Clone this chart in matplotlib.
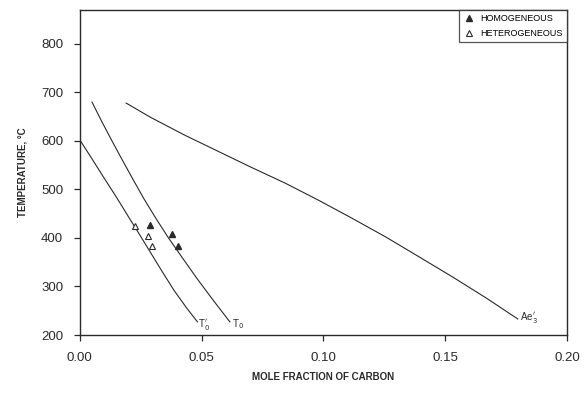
import matplotlib
matplotlib.use("Agg")
import matplotlib.pyplot as plt

plt.rcParams['font.family'] = ['Liberation Sans', 'DejaVu Sans']

# T0' curve
t0p_x = [0.0, 0.0050, 0.0099, 0.0149, 0.0198, 0.0244, 0.0289, 0.0339,
         0.0388, 0.0438, 0.0483]
t0p_T = [602, 563, 524, 485, 445, 408, 371, 330, 291, 256, 227]
# T0 curve
t0_x = [0.0050, 0.0091, 0.0132, 0.0174, 0.0219, 0.0264, 0.0314, 0.0364,
        0.0421, 0.0483, 0.0550, 0.0616]
t0_T = [680, 639, 600, 561, 520, 480, 439, 400, 359, 315, 270, 227]
# Ae3' curve
ae_x = [0.0190, 0.0289, 0.0430, 0.0566, 0.0702, 0.0843, 0.0979, 0.1116,
        0.1256, 0.1393, 0.1529, 0.1669, 0.1798]
ae_T = [678, 649, 612, 579, 546, 513, 478, 441, 402, 361, 320, 276, 233]
# data points
homo_x = [0.0289, 0.038, 0.0401]
homo_T = [427, 408, 383]
hetero_x = [0.0227, 0.0281, 0.0298]
hetero_T = [425, 404, 383]

xticks = [0.00, 0.05, 0.10, 0.15, 0.20]
xticklabels = ["0.00", "0.05", "0.10", "0.15", "0.20"]
yticks = [200, 300, 400, 500, 600, 700, 800]

col = '#2a2a2a'
fig = plt.figure(figsize=(5.87, 3.96), dpi=100)
ax = fig.add_axes([0.136, 0.154, 0.830, 0.821])

ax.plot(t0p_x, t0p_T, color=col, lw=0.8)
ax.plot(t0_x, t0_T, color=col, lw=0.8)
ax.plot(ae_x, ae_T, color=col, lw=0.8)
ax.plot(homo_x, homo_T, linestyle='none', marker='^', ms=5, color=col,
        label='HOMOGENEOUS')
ax.plot(hetero_x, hetero_T, linestyle='none', marker='^', ms=5,
        markerfacecolor='white', markeredgecolor=col, markeredgewidth=0.8,
        label='HETEROGENEOUS')

ax.text(t0p_x[-1] + 0.0004, t0p_T[-1] - 6, r"T$_0'$", fontsize=7, color=col,
        ha='left', va='center')
ax.text(t0_x[-1] + 0.0008, t0_T[-1] - 4, r"T$_0$", fontsize=7, color=col,
        ha='left', va='center')
ax.text(ae_x[-1] + 0.0007, ae_T[-1] + 4, r"Ae$_3'$", fontsize=7, color=col,
        ha='left', va='center')

ax.set_xlim(0, 0.20)
ax.set_ylim(200, 870)
ax.set_xticks(xticks)
ax.set_xticklabels(xticklabels)
ax.set_yticks(yticks)
ax.tick_params(direction='out', length=4, width=0.9, colors=col,
               labelsize=9.5, pad=8)
for s in ax.spines.values():
    s.set_color(col)
    s.set_linewidth(1.0)

ax.set_xlabel("MOLE FRACTION OF CARBON", fontsize=7, fontweight='bold',
              color=col, labelpad=6)
ax.set_ylabel("TEMPERATURE, \u00b0C", fontsize=7, fontweight='bold',
              color=col, labelpad=10)

leg = ax.legend(loc='upper right', fontsize=6.5, frameon=True, fancybox=False,
                borderaxespad=0.0, handletextpad=0.6, handlelength=1.2,
                borderpad=0.5, labelspacing=0.6)
leg.get_frame().set_edgecolor(col)
leg.get_frame().set_linewidth(0.9)

fig.savefig("out.png", dpi=100)
